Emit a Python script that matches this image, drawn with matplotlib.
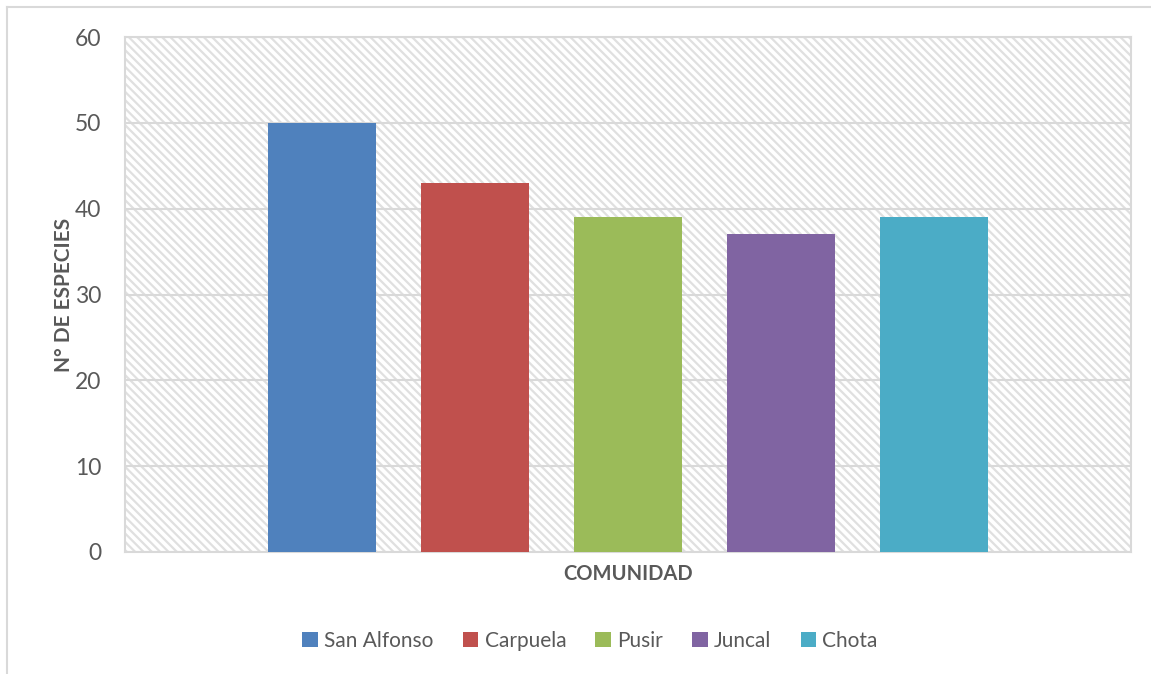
import matplotlib
matplotlib.use("Agg")
import matplotlib.pyplot as plt
from matplotlib.patches import Rectangle, Patch
from matplotlib.lines import Line2D

# === Datos ===
comunidades = ["San Alfonso", "Carpuela", "Pusir", "Juncal", "Chota"]
especies = [50, 43, 39, 37, 39]
colores = ["#4F81BD", "#C0504D", "#9BBB59", "#8064A2", "#4BACC6"]
y_ticks = [0, 10, 20, 30, 40, 50, 60]

TXT = "#595959"
GRIS = "#D9D9D9"
plt.rcParams["font.family"] = ["Lato", "DejaVu Sans"]
plt.rcParams["hatch.linewidth"] = 1.6

fig = plt.figure(figsize=(11.51, 6.74), dpi=100)
W, H = 1151, 674
ax = fig.add_axes([125 / W, (H - 552) / H, 1006 / W, 515 / H])

# Fondo rayado del area de trazado
ax.set_facecolor("white")
ax.add_patch(Rectangle((0, 0), 1, 1, transform=ax.transAxes, facecolor="white",
                       edgecolor="#E0E0E0", hatch="\\\\\\\\", linewidth=0, zorder=0))

# === Barras ===
x = list(range(len(comunidades)))
ax.bar(x, especies, width=108 / 153, color=colores, zorder=3)

ax.set_xlim(-197 / 153, len(comunidades) - 1 + 197 / 153)
ax.set_ylim(0, 60)
ax.set_yticks(y_ticks)
ax.set_xticks([])
ax.yaxis.grid(True, color=GRIS, linewidth=1.5, zorder=1)
ax.set_axisbelow(False)
for s in ax.spines.values():
    s.set_color(GRIS)
    s.set_linewidth(1.5)
ax.tick_params(axis="y", length=0, pad=17, labelsize=16.5, labelcolor=TXT)

ax.set_ylabel("N° DE ESPECIES", fontsize=15, fontweight="bold", color=TXT, labelpad=1)
ax.set_xlabel("COMUNIDAD", fontsize=14.5, fontweight="bold", color=TXT, labelpad=9)

# === Leyenda ===
handles = [Patch(facecolor=c, edgecolor="none") for c in colores]
fig.legend(handles, comunidades, loc="center", bbox_to_anchor=(590 / W, 1 - 641 / H),
           ncol=5, frameon=False, fontsize=15, labelcolor=TXT,
           handlelength=0.75, handleheight=0.75, handletextpad=0.3, columnspacing=1.4)

# Borde exterior del grafico
fig.add_artist(Line2D([7 / W, 7 / W], [0, 1 - 7 / H], color=GRIS, linewidth=1.5))
fig.add_artist(Line2D([7 / W, 1], [1 - 7 / H, 1 - 7 / H], color=GRIS, linewidth=1.5))

fig.savefig("out.png", dpi=100)
